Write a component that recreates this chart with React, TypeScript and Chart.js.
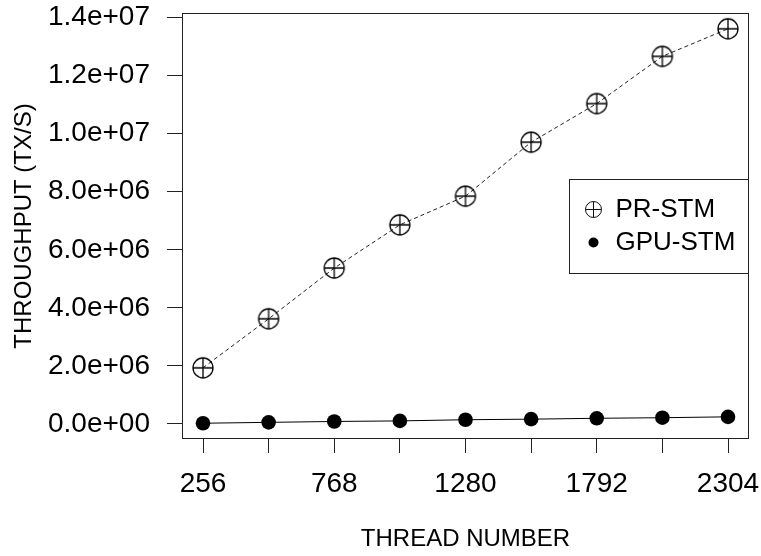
import React, { useEffect, useRef } from "react";
import { Chart, registerables } from "chart.js";

Chart.register(...registerables);

const threads = [256, 512, 768, 1024, 1280, 1536, 1792, 2048, 2304];
const prStm = [1.93e6, 3.62e6, 5.37e6, 6.86e6, 7.85e6, 9.71e6, 11.04e6, 12.67e6, 13.62e6];
const gpuStm = [20000, 50000, 80000, 100000, 140000, 160000, 190000, 210000, 240000];
const yTicks = [0, 2e6, 4e6, 6e6, 8e6, 1e7, 1.2e7, 1.4e7];
const xLabelTicks = [256, 768, 1280, 1792, 2304];
const seriesNames = ["PR-STM", "GPU-STM"];
const xTitle = "THREAD NUMBER";
const yTitle = "THROUGHPUT (TX/S)";

const FONT = "'Liberation Sans', Arial, sans-serif";

function fmtExp(v: number): string {
  const s = v.toExponential(1);
  return s.replace(/e([+-])(\d+)$/, (_m, sign, d) => "e" + sign + (d.length < 2 ? "0" + d : d));
}

function drawCircleCross(ctx: CanvasRenderingContext2D, x: number, y: number, r: number) {
  ctx.beginPath();
  ctx.arc(x, y, r, 0, Math.PI * 2);
  ctx.moveTo(x - r, y);
  ctx.lineTo(x + r, y);
  ctx.moveTo(x, y - r);
  ctx.lineTo(x, y + r);
  ctx.stroke();
}

function makeCrossCircle(r: number): HTMLCanvasElement {
  const size = Math.ceil(r * 2 + 4);
  const c = document.createElement("canvas");
  c.width = size;
  c.height = size;
  const ctx = c.getContext("2d")!;
  ctx.strokeStyle = "#000";
  ctx.lineWidth = 1.3;
  drawCircleCross(ctx, size / 2, size / 2, r);
  return c;
}

const boxLegendPlugin = {
  id: "boxLegend",
  afterDatasetsDraw(chart: any) {
    const { ctx, chartArea: a } = chart;
    ctx.save();
    ctx.strokeStyle = "#222";
    ctx.lineWidth = 1;
    const l = Math.round(a.left) + 0.5;
    const t = Math.round(a.top) + 0.5;
    const r = Math.round(a.right) - 0.5;
    const b = Math.round(a.bottom) - 0.5;
    ctx.strokeRect(l, t, r - l, b - t);

    // legend box at top-right area
    const lr = r;
    const ll = Math.round(a.right) - 180 + 0.5;
    const lt = Math.round(a.top) + 166 + 0.5;
    const lb = lt + 94;
    ctx.fillStyle = "#fff";
    ctx.fillRect(ll, lt, lr - ll, lb - lt);
    ctx.strokeRect(ll, lt, lr - ll, lb - lt);

    const ds = chart.data.datasets;
    const symX = ll + 24;
    const textX = ll + 46;
    const y1 = lt + 30;
    const y2 = lt + 63;
    ctx.strokeStyle = "#111";
    ctx.lineWidth = 1;
    drawCircleCross(ctx, symX, y1, 8);
    ctx.fillStyle = "#000";
    ctx.beginPath();
    ctx.arc(symX, y2, 5, 0, Math.PI * 2);
    ctx.fill();
    ctx.font = "26px " + FONT;
    ctx.textBaseline = "middle";
    ctx.textAlign = "left";
    ctx.fillText(ds[0].label, textX, y1);
    ctx.fillText(ds[1].label, textX, y2);
    ctx.restore();
  },
};

export default function App() {
  const ref = useRef<HTMLCanvasElement>(null);

  useEffect(() => {
    const canvas = ref.current!;
    const xMinD = Math.min(...threads);
    const xMaxD = Math.max(...threads);
    const allY = [...prStm, ...gpuStm];
    const yMinD = Math.min(...allY);
    const yMaxD = Math.max(...allY);
    const xPad = (xMaxD - xMinD) * 0.04;
    const yPad = (yMaxD - yMinD) * 0.04;

    const chart = new Chart(canvas, {
      type: "line",
      data: {
        datasets: [
          {
            label: seriesNames[0],
            data: threads.map((x, i) => ({ x, y: prStm[i] })),
            borderColor: "#222",
            borderWidth: 1,
            borderDash: [4, 3],
            pointStyle: makeCrossCircle(10) as any,
            pointRadius: 10,
            tension: 0,
          },
          {
            label: seriesNames[1],
            data: threads.map((x, i) => ({ x, y: gpuStm[i] })),
            borderColor: "#000",
            borderWidth: 1,
            pointStyle: "circle",
            pointRadius: 7.3,
            pointBackgroundColor: "#000",
            pointBorderWidth: 0,
            tension: 0,
          },
        ],
      },
      options: {
        responsive: false,
        animation: false,
        devicePixelRatio: 1,
        layout: { padding: { left: 0, right: 12, top: 13, bottom: 0 } },
        plugins: {
          legend: { display: false },
          tooltip: { enabled: false },
        },
        scales: {
          x: {
            type: "linear",
            min: xMinD - xPad,
            max: xMaxD + xPad,
            border: { display: false },
            grid: {
              drawOnChartArea: false,
              drawTicks: true,
              tickLength: 14,
              tickWidth: 1,
              tickColor: "#222",
            },
            afterBuildTicks: (axis: any) => {
              axis.ticks = threads.map((v) => ({ value: v }));
            },
            afterFit: (axis: any) => {
              axis.height = 117;
              axis.paddingLeft = 0;
              axis.paddingRight = 0;
            },
            ticks: {
              autoSkip: false,
              maxRotation: 0,
              padding: 14,
              color: "#000",
              font: { family: FONT, size: 28 },
              callback: (v: any) => (xLabelTicks.includes(Number(v)) ? String(v) : ""),
            },
            title: {
              display: true,
              text: xTitle,
              color: "#000",
              font: { family: FONT, size: 24 },
              padding: { top: 0, bottom: 2 },
            },
          },
          y: {
            type: "linear",
            min: yMinD - yPad,
            max: yMaxD + yPad,
            border: { display: false },
            grid: {
              drawOnChartArea: false,
              drawTicks: true,
              tickLength: 15,
              tickWidth: 1,
              tickColor: "#222",
            },
            afterBuildTicks: (axis: any) => {
              axis.ticks = yTicks.map((v) => ({ value: v }));
            },
            afterFit: (axis: any) => {
              axis.width = 182;
              axis.paddingTop = 0;
              axis.paddingBottom = 0;
            },
            ticks: {
              padding: 17,
              color: "#000",
              font: { family: FONT, size: 28 },
              callback: (v: any) => fmtExp(Number(v)),
            },
            title: {
              display: true,
              text: yTitle,
              color: "#000",
              font: { family: FONT, size: 24 },
              padding: { top: 10, bottom: 0 },
            },
          },
        },
      },
      plugins: [boxLegendPlugin],
    });
    return () => chart.destroy();
  }, []);

  return (
    <div style={{ position: "fixed", left: 0, top: 0, width: 761, height: 556, background: "#fff" }}>
      <canvas ref={ref} width={761} height={556} style={{ width: 761, height: 556 }} />
    </div>
  );
}
